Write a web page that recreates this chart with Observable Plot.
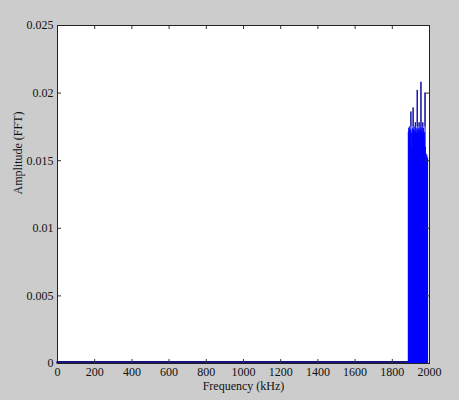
<!DOCTYPE html>
<html>
<head>
<meta charset="utf-8">
<script src="https://cdn.jsdelivr.net/npm/d3@7"></script>
<script src="https://cdn.jsdelivr.net/npm/@observablehq/plot@0.6"></script>
<style>
  html, body { margin: 0; padding: 0; background: #cccccc; overflow: hidden; }
  #chart { width: 459px; height: 400px; }
  #chart svg, #chart svg text { font-family: "Liberation Serif", "DejaVu Serif", serif !important; }
</style>
</head>
<body>
<div id="chart"></div>
<script>
// Tick values and labels
const xTicks = [0, 200, 400, 600, 800, 1000, 1200, 1400, 1600, 1800, 2000];
const xTickLabels = ["0", "200", "400", "600", "800", "1000", "1200", "1400", "1600", "1800", "2000"];
const yTicks = [0, 0.005, 0.01, 0.015, 0.02, 0.025];
const yTickLabels = ["0", "0.005", "0.01", "0.015", "0.02", "0.025"];

// Near-zero FFT floor before the active band (kHz, amplitude)
const baseFreq = [0, 1886];
const baseAmp = [0.00008, 0.00008];

// Active band (kHz, amplitude)
const bandFreq = [1886, 1888, 1890, 1892, 1894, 1896, 1898, 1900, 1902, 1904,
  1906, 1908, 1910, 1912, 1914, 1916, 1918, 1920, 1922, 1924,
  1926, 1928, 1930, 1932, 1934, 1936, 1938, 1940, 1942, 1944,
  1946, 1948, 1950, 1952, 1954, 1956, 1958, 1960, 1962, 1964,
  1966, 1968, 1970, 1972, 1974, 1976, 1978, 1980, 1982, 1984,
  1986, 1988, 1990];
const bandAmp = [0.0171, 0.0174, 0.0170, 0.0175, 0.0172, 0.0168, 0.0173, 0.0186, 0.0170, 0.0158,
  0.0172, 0.0174, 0.0171, 0.0189, 0.0173, 0.0170, 0.0175, 0.0172, 0.0169, 0.0178,
  0.0171, 0.0174, 0.0170, 0.0173, 0.0202, 0.0172, 0.0168, 0.0174, 0.0171, 0.0178,
  0.0173, 0.0170, 0.0175, 0.0172, 0.0208, 0.0174, 0.0171, 0.0175, 0.0170, 0.0178,
  0.0172, 0.0174, 0.0169, 0.0166, 0.0171, 0.0200, 0.0160, 0.0153, 0.0155, 0.0152,
  0.0154, 0.0151, 0.0152];
const spikeFloor = 0.0175;

const xLabel = "Frequency (kHz)";
const yLabel = "Amplitude (FFT)";

const band = bandFreq.map((f, i) => ({f, a: bandAmp[i]}));
const spikes = band.filter(d => d.a > 0.0177);
const base = baseFreq.map((f, i) => ({f, a: baseAmp[i]}));

const W = 459, H = 400, mL = 57, mR = 30, mT = 25, mB = 37;
const innerW = W - mL - mR, innerH = H - mT - mB;
const tickLen = 4;
const serif = "Liberation Serif, DejaVu Serif, serif";

const chart = Plot.plot({
  width: W,
  height: H,
  marginLeft: mL,
  marginRight: mR,
  marginTop: mT,
  marginBottom: mB,
  style: {background: "#cccccc", fontFamily: serif, fontSize: "12px", color: "#111"},
  x: {domain: [0, 2000], axis: null},
  y: {domain: [0, 0.025], axis: null},
  marks: [
    Plot.frame({fill: "white", stroke: null}),
    Plot.line(base, {x: "f", y: "a", stroke: "#14147a", strokeWidth: 2.6}),
    Plot.ruleX(band, {x: "f", y1: 0, y2: "a", stroke: "#0000ff", strokeWidth: 1}),
    Plot.ruleX(spikes, {x: "f", y1: spikeFloor, y2: "a", stroke: "#121270", strokeWidth: 1}),
    // inward ticks on all four sides
    Plot.tickX(xTicks, {x: d => d, insetTop: innerH - tickLen, stroke: "#333"}),
    Plot.tickX(xTicks, {x: d => d, insetBottom: innerH - tickLen, stroke: "#333"}),
    Plot.tickY(yTicks, {y: d => d, insetRight: innerW - tickLen, stroke: "#333"}),
    Plot.tickY(yTicks, {y: d => d, insetLeft: innerW - tickLen, stroke: "#333"}),
    Plot.axisX(xTicks, {anchor: "bottom", label: null, tickSize: 0, tickPadding: 4, tickFormat: d => xTickLabels[xTicks.indexOf(d)], fill: "#111", fontFamily: serif, fontSize: 12}),
    Plot.axisY(yTicks, {anchor: "left", label: null, tickSize: 0, tickPadding: 4, tickFormat: d => yTickLabels[yTicks.indexOf(d)], fill: "#111", fontFamily: serif, fontSize: 12}),
    Plot.text([xLabel], {frameAnchor: "bottom", lineAnchor: "middle", dy: 23, text: d => d, fill: "#111", fontSize: 12, fontFamily: serif}),
    Plot.text([yLabel], {frameAnchor: "left", lineAnchor: "middle", dx: -39, rotate: -90, text: d => d, fill: "#111", fontSize: 12, fontFamily: serif}),
    Plot.frame({stroke: "#222", strokeWidth: 1})
  ]
});
document.getElementById("chart").appendChild(chart);
</script>
</body>
</html>
